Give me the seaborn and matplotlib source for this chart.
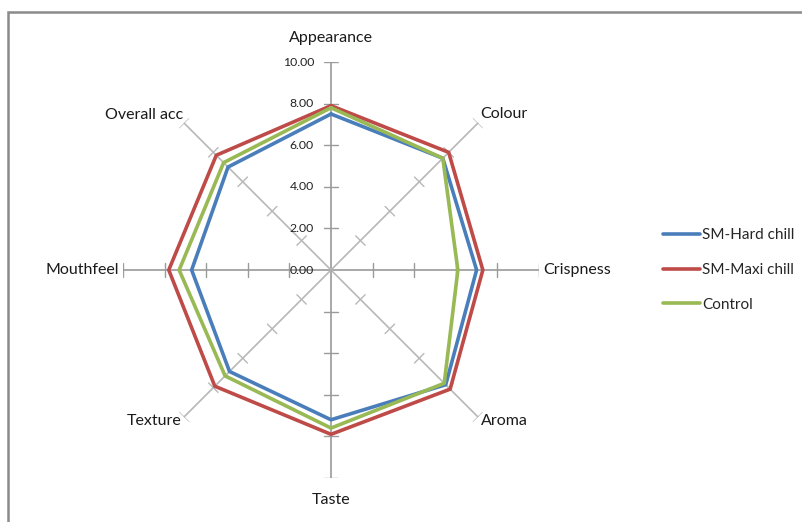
import numpy as np
import pandas as pd
import matplotlib
matplotlib.use("Agg")
import matplotlib.pyplot as plt
from matplotlib.patches import Rectangle
import seaborn as sns

categories = ["Appearance", "Colour", "Crispness", "Aroma",
              "Taste", "Texture", "Mouthfeel", "Overall acc"]
hard_chill = [7.5, 7.6, 7.0, 7.8, 7.2, 6.9, 6.7, 7.0]
maxi_chill = [7.9, 8.0, 7.3, 8.1, 7.9, 7.9, 7.8, 7.8]
control = [7.8, 7.6, 6.1, 7.7, 7.6, 7.2, 7.3, 7.3]
series_names = ["SM-Hard chill", "SM-Maxi chill", "Control"]
tick_values = [0, 2, 4, 6, 8, 10]
tick_labels = ["0.00", "2.00", "4.00", "6.00", "8.00", "10.00"]

colors = {"SM-Hard chill": "#4A7EBB", "SM-Maxi chill": "#BE4B48", "Control": "#98B954"}

sns.set_style("white")
plt.rcParams["font.family"] = ["Lato", "DejaVu Sans"]

W, H, DPI = 803, 522, 100
fig = plt.figure(figsize=(W / DPI, H / DPI), dpi=DPI)
fig.patch.set_facecolor("white")

# outer chart frame
fig.add_artist(Rectangle((8 / W, -0.05), 1.2, (H - 12) / H + 0.05,
                         transform=fig.transFigure, fill=False,
                         edgecolor="#8a8a8a", linewidth=1.8))

cx, cy, R = 331, 270, 208
ax = fig.add_axes([(cx - R) / W, (H - cy - R) / H, 2 * R / W, 2 * R / H],
                  projection="polar")
ax.set_theta_zero_location("N")
ax.set_theta_direction(-1)
ax.set_ylim(0, 10)
ax.grid(False)
ax.set_xticks([])
ax.set_yticks([])
ax.spines["polar"].set_visible(False)
ax.set_facecolor("none")

n = len(categories)
angles = np.arange(n) * 2 * np.pi / n

# spokes with perpendicular tick marks
for i, th in enumerate(angles):
    col = "#9a9a9a" if i % 2 == 0 else "#b8b8b8"
    ax.plot([th, th], [0, 10], color=col, lw=1.2, zorder=1)
    for r in tick_values[1:]:
        h = 0.32
        rr = np.hypot(r, h)
        d = np.arctan2(h, r)
        ax.plot([th - d, th + d], [rr, rr], color=col, lw=1.0, zorder=1)

# tick labels on the vertical axis
for v, lab in zip(tick_values, tick_labels):
    ax.annotate(lab, xy=(0, v), xytext=(-17 * 0.72, 0), textcoords="offset points",
                ha="right", va="center", fontsize=8.8, color="#222222",
                annotation_clip=False)

# category labels
label_spec = [
    (0, 24, "center", "center"),
    (2, 9, "left", "center"),
    (4, 0, "left", "center"),
    (3, -4, "left", "center"),
    (0, -22, "center", "center"),
    (-2, -4, "right", "center"),
    (-4, 0, "right", "center"),
    (-1, 8, "right", "center"),
]
for th, name, (dx, dy, ha, va) in zip(angles, categories, label_spec):
    ax.annotate(name, xy=(th, 10), xytext=(dx * 0.72, dy * 0.72),
                textcoords="offset points", ha=ha, va=va, fontsize=11.5,
                color="#1a1a1a", annotation_clip=False)

# data series as closed polygons
rows = []
for name, vals in zip(series_names, [hard_chill, maxi_chill, control]):
    for k in range(n + 1):
        rows.append({"theta": angles[k % n] if k < n else 2 * np.pi,
                     "score": vals[k % n], "series": name, "order": k})
df = pd.DataFrame(rows)

sns.lineplot(data=df, x="theta", y="score", hue="series", hue_order=series_names,
             palette=colors, sort=False, estimator=None, units="series",
             linewidth=2.6, ax=ax, zorder=3, legend=False)
ax.set_xlabel("")
ax.set_ylabel("")
ax.set_ylim(0, 10)

# legend
handles = [plt.Line2D([], [], color=colors[s], lw=2.6) for s in series_names]
fig.legend(handles, series_names, loc="center left",
           bbox_to_anchor=(663 / W, 1 - 270 / H), frameon=False,
           fontsize=11, handlelength=2.45, handletextpad=0.1,
           labelspacing=1.35, borderaxespad=0, borderpad=0)

fig.savefig("out.png", dpi=DPI, facecolor="white")
